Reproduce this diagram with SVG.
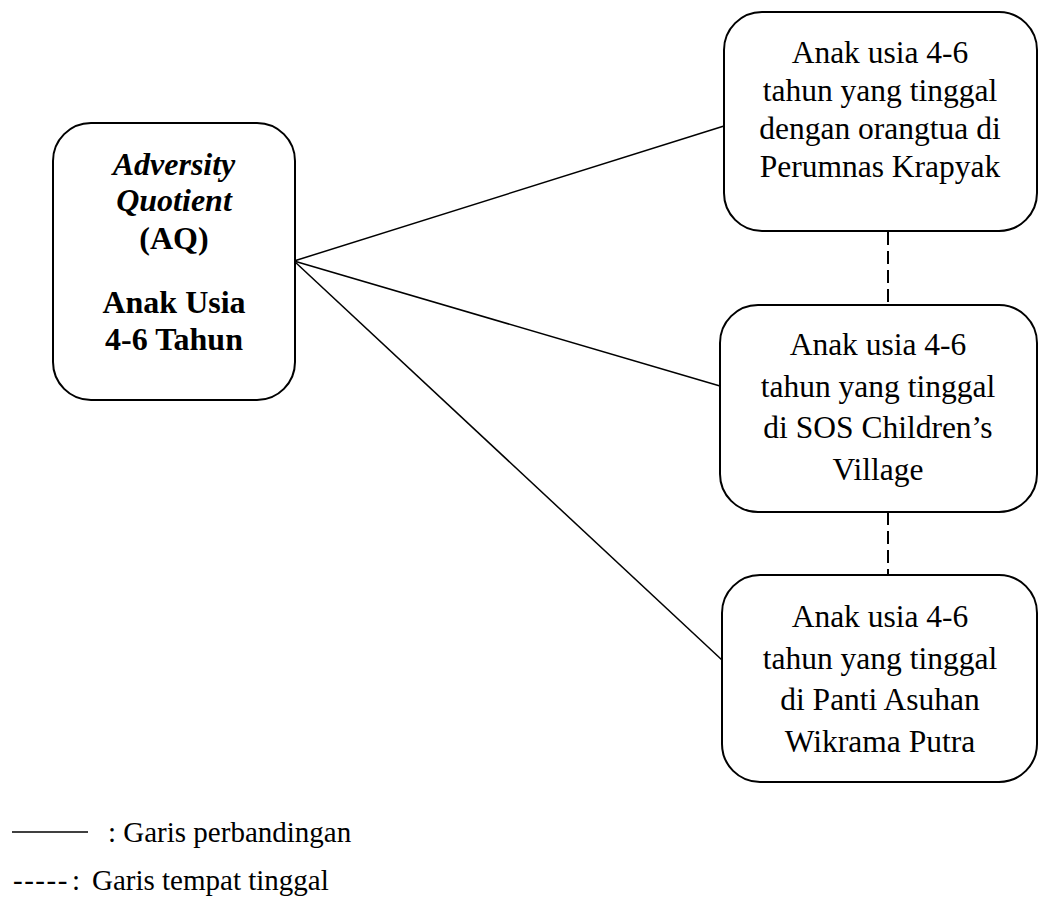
<svg xmlns="http://www.w3.org/2000/svg" width="1039" height="920" viewBox="0 0 1039 920">
<style>
.box{fill:#fff;stroke:#000;stroke-width:2}
.t{font-family:"Liberation Serif","Times New Roman",serif;font-size:31.5px;fill:#000;text-anchor:middle}
.b{font-weight:bold;font-size:32px}
.bi{font-weight:bold;font-style:italic;font-size:32px}
.ln{stroke:#000;stroke-width:1.5;fill:none}
.dash{stroke:#000;stroke-width:2;stroke-dasharray:13 6;fill:none}
.lg{font-family:"Liberation Serif","Times New Roman",serif;font-size:29px;fill:#000}
</style>
<rect width="1039" height="920" fill="#fff"/>
<g id="connectors">
<line class="ln" x1="294" y1="261" x2="724" y2="126"/>
<line class="ln" x1="294" y1="261" x2="720" y2="386"/>
<line class="ln" x1="294" y1="261" x2="722" y2="660"/>
<line class="dash" x1="888" y1="232" x2="888" y2="305"/>
<line class="dash" x1="888" y1="512" x2="888" y2="575"/>
</g>
<g id="node-aq">
<rect class="box" x="53" y="123" width="242" height="277" rx="38" ry="38"/>
<text class="t bi" x="174" y="175">Adversity</text>
<text class="t bi" x="174" y="211">Quotient</text>
<text class="t b" x="174" y="249">(AQ)</text>
<text class="t b" x="174" y="313">Anak Usia</text>
<text class="t b" x="174" y="350">4-6 Tahun</text>
</g>
<g id="node-krapyak">
<rect class="box" x="724" y="12" width="313" height="219" rx="38" ry="38"/>
<text class="t" x="880" y="63">Anak usia 4-6</text>
<text class="t" x="880" y="101">tahun yang tinggal</text>
<text class="t" x="880" y="139">dengan orangtua di</text>
<text class="t" x="880" y="177">Perumnas Krapyak</text>
</g>
<g id="node-sos">
<rect class="box" x="720" y="305" width="317" height="207" rx="38" ry="38"/>
<text class="t" x="878" y="355">Anak usia 4-6</text>
<text class="t" x="878" y="397">tahun yang tinggal</text>
<text class="t" x="878" y="438">di SOS Children’s</text>
<text class="t" x="878" y="480">Village</text>
</g>
<g id="node-panti">
<rect class="box" x="722" y="575" width="315" height="207" rx="38" ry="38"/>
<text class="t" x="880" y="627">Anak usia 4-6</text>
<text class="t" x="880" y="668.5">tahun yang tinggal</text>
<text class="t" x="880" y="710">di Panti Asuhan</text>
<text class="t" x="880" y="752">Wikrama Putra</text>
</g>
<g id="legend">
<line class="ln" x1="12" y1="832" x2="88" y2="832"/>
<text class="lg" x="108" y="842">: Garis perbandingan</text>
<text class="lg" x="13" y="890" letter-spacing="1.5">-----</text>
<text class="lg" x="72" y="890">:</text>
<text class="lg" x="92" y="890">Garis tempat tinggal</text>
</g>
</svg>
